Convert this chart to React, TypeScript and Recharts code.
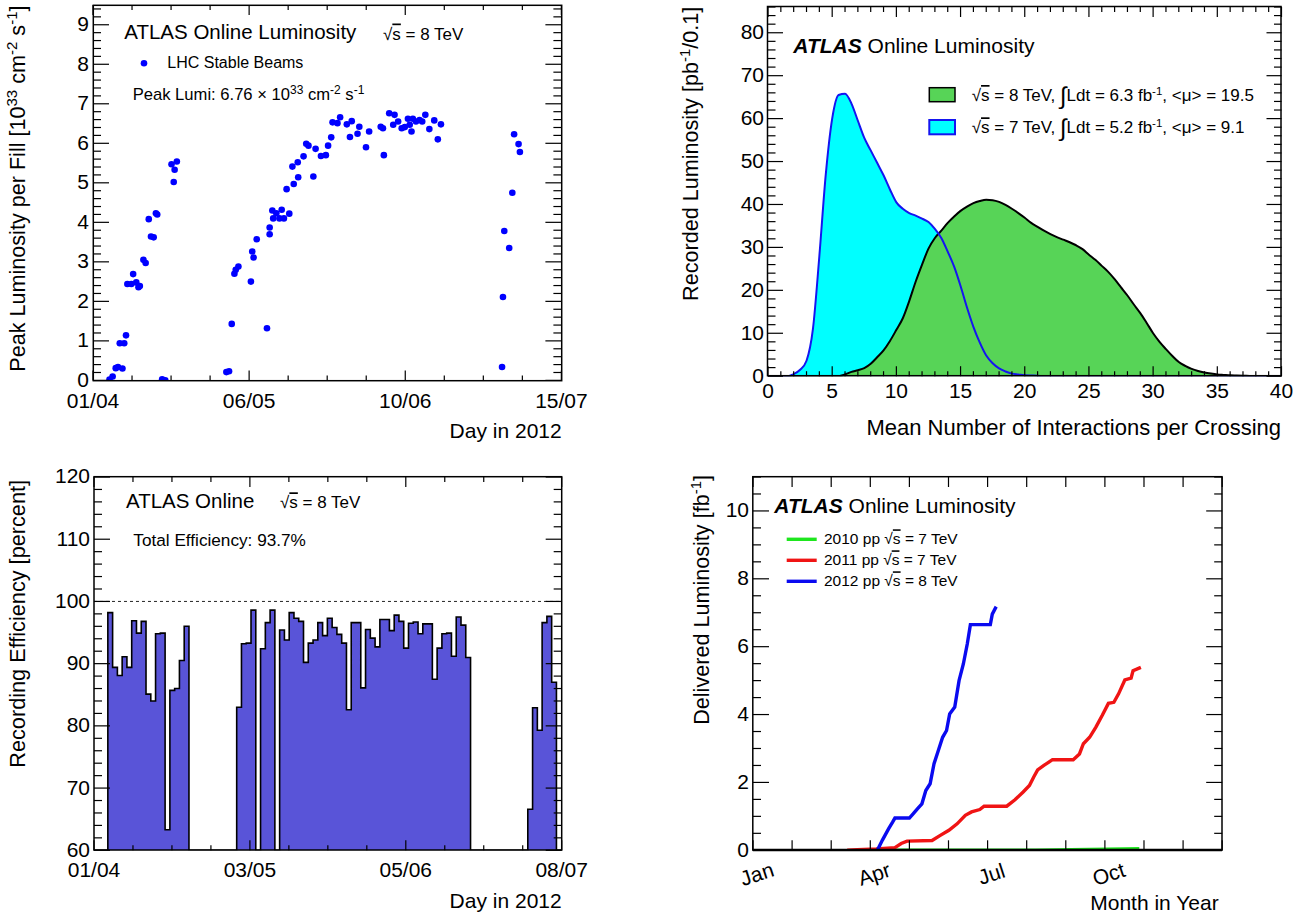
import React from 'react';
import { ScatterChart, Scatter, ComposedChart, Area, Line, XAxis, YAxis, ReferenceLine } from 'recharts';

// ---- top-left: peak luminosity per fill (days since 01/04) ----
const peakDay = [
  3.7, 4.4, 5.1, 5.6, 6.6, 6.0, 7.0, 7.4, 7.7, 8.6, 9.0, 9.7, 10.2, 10.5, 11.3, 11.8, 12.5, 13.0, 13.6, 14.1,
  14.4, 15.5, 16.2, 17.6, 18.1, 18.3, 18.8,
  29.9, 30.5, 31.1, 31.7, 32.0, 32.6, 35.4, 35.7, 36.0, 36.7, 39.0, 39.6, 39.6, 40.2, 40.4, 41.1, 41.8, 42.3,
  42.8, 43.4, 44.0, 44.7, 45.0, 45.9, 46.0, 47.2, 47.8, 48.3, 49.4, 49.9, 51.1, 52.2, 52.7, 53.4, 53.7, 54.8,
  55.4, 56.9, 57.6, 58.0, 59.3, 59.7, 61.2, 61.9, 64.5, 65.0, 65.2, 66.4, 67.3, 67.6, 68.4, 69.2, 69.9, 70.6,
  71.0, 71.4, 71.7, 72.4, 73.2, 73.8, 74.5, 75.4, 76.5, 77.3, 78.0,
  91.7, 91.9, 92.2, 93.3, 94.0, 94.4, 95.4, 95.7,
];
const peakLumi = [
  0.02, 0.1, 0.31, 0.34, 0.3, 0.94, 0.94, 1.14, 2.44, 2.44, 2.69, 2.48, 2.36, 2.39, 3.05, 2.97, 4.08, 3.64, 3.62, 4.23,
  4.2, 0.03, 0.0, 5.47, 5.02, 5.33, 5.54,
  0.21, 0.23, 1.43, 2.7, 2.8, 2.88, 2.5, 3.26, 3.11, 3.57, 1.32, 3.87, 3.7, 4.3, 4.1, 4.23, 4.1, 4.32,
  4.1, 4.84, 4.22, 5.41, 4.97, 5.52, 5.14, 5.67, 5.99, 5.94, 5.16, 5.86, 5.68, 5.7, 5.94, 6.15, 6.53, 6.51,
  6.66, 6.48, 6.16, 6.56, 6.24, 6.42, 5.9, 6.3, 6.42, 6.38, 5.7, 6.76, 6.47, 6.72, 6.55, 6.38, 6.41, 6.62,
  6.47, 6.3, 6.62, 6.55, 6.59, 6.55, 6.72, 6.36, 6.58, 6.1, 6.48,
  0.34, 2.11, 3.78, 3.35, 4.75, 6.23, 5.98, 5.78,
];
const p1DateTicks = [0, 35, 70, 105];
const p1DateLabels = ['01/04', '06/05', '10/06', '15/07'];

// ---- top-right: mu distribution, bins of 0.5 from 0 to 40 ----
const muStep = 0.5;
const lumi7TeV = [
  0, 0, 0, 0, 0.5, 1.5, 3.6, 11, 28, 47, 60, 65.5, 65.8, 63.5, 59.5, 55.5, 52.6, 49.7, 46.8, 43.5,
  40.5, 39, 38, 37.4, 36.7, 35.9, 34.3, 32.2, 29, 25.5, 21, 16, 11.5, 7.8, 4.8, 3, 1.8, 1.1, 0.6, 0.4,
  0.2, 0.15, 0.1, 0, 0, 0, 0, 0, 0, 0, 0, 0, 0, 0, 0, 0, 0, 0, 0, 0,
  0, 0, 0, 0, 0, 0, 0, 0, 0, 0, 0, 0, 0, 0, 0, 0, 0, 0, 0, 0, 0,
];
const lumi8TeV = [
  0, 0, 0, 0, 0, 0, 0, 0, 0, 0, 0, 0, 0.4, 1.0, 1.4, 1.9, 2.9, 4.4, 6, 8.2,
  10.8, 13.5, 17.5, 22, 26, 29.7, 32.2, 33.9, 35.7, 37.2, 38.5, 39.5, 40.3, 40.8, 41.1, 41, 40.6, 39.9, 39, 38,
  36.9, 35.7, 34.8, 33.9, 33.1, 32.4, 31.8, 31.2, 30.5, 29.6, 28.3, 27.1, 25.7, 24.3, 22.6, 20.7, 18.8, 16.7, 14.7, 12.4,
  10, 8, 6.3, 4.7, 3.3, 2.4, 1.7, 1.2, 0.85, 0.6, 0.4, 0.3, 0.2, 0.15, 0.1, 0.05, 0, 0, 0, 0, 0,
];

// ---- bottom-left: daily recording efficiency, first bin = day 3 ----
const effFirstDay = 3;
const effValues = [
  98.2, 89.4, 88.1, 91.1, 89.4, 96.9, 94.9, 96.8, 85.1, 84.0, 94.8, 94.9, 63.3, 85.7, 86.0, 90.5, 96.0,
  60, 60, 60, 60, 60, 60, 60, 60, 60, 60,
  83.0, 93.2, 93.3, 98.6, 60, 92.4, 96.6, 98.6, 60, 95.4, 93.8, 98.2, 97.3, 96.8, 90.2, 93.3, 93.8, 96.6,
  94.5, 97.3, 95.8, 94.7, 93.3, 82.6, 96.6, 96.6, 86.1, 95.5, 94.1, 92.7, 97.1, 97.1, 95.3, 97.8, 96.8,
  92.5, 96.5, 96.7, 94.8, 96.4, 96.4, 87.5, 92.5, 94.8, 94.9, 91.2, 97.5, 96.2, 91.0,
  60, 60, 60, 60, 60, 60, 60, 60, 60, 60, 60, 60,
  66.6, 82.9, 79.3, 96.6, 97.6, 87.0,
  60,
];
const p3DateTicks = [0, 98 / 3, 196 / 3, 98];
const p3DateLabels = ['01/04', '03/05', '05/06', '08/07'];

// ---- bottom-right: cumulative delivered luminosity (x in months from Jan 1) ----
const lumi2010Month = [2.94, 5.0, 7.23, 9.03, 9.88];
const lumi2010Value = [0, 0, 0.0, 0.03, 0.05];
const lumi2011Month = [2.41, 2.67, 3.15, 3.63, 3.79, 3.94, 4.58, 4.79, 5.01, 5.22, 5.43, 5.59, 5.8, 5.91, 6.49, 6.7,
  6.91, 7.07, 7.18, 7.28, 7.44, 7.66, 8.19, 8.35, 8.45, 8.61, 8.77, 8.93, 9.09, 9.23, 9.35, 9.51, 9.67, 9.72, 9.92];
const lumi2011Value = [0, 0.02, 0.04, 0.08, 0.2, 0.27, 0.29, 0.44, 0.59, 0.78, 1.03, 1.13, 1.2, 1.3, 1.3, 1.49,
  1.72, 1.91, 2.16, 2.37, 2.5, 2.67, 2.67, 2.84, 3.14, 3.33, 3.63, 3.97, 4.33, 4.36, 4.61, 5.02, 5.07, 5.29, 5.39];
const lumi2012Month = [3.18, 3.31, 3.47, 3.57, 3.63, 4.0, 4.1, 4.21, 4.32, 4.42, 4.53, 4.63, 4.74, 4.85, 4.95, 5.03,
  5.16, 5.27, 5.38, 5.48, 5.56, 6.07, 6.12, 6.22];
const lumi2012Value = [0, 0.3, 0.64, 0.83, 0.95, 0.95, 1.08, 1.23, 1.37, 1.76, 1.96, 2.55, 2.94, 3.33, 3.53, 4.02,
  4.22, 5.0, 5.49, 6.08, 6.65, 6.65, 6.96, 7.18];
const monthLabels = ['Jan', '', '', 'Apr', '', '', 'Jul', '', '', 'Oct', '', '', ''];

const FONT = '"Liberation Sans", Arial, Helvetica, sans-serif';
const M = 60;

type Box = { L: number; R: number; T: number; B: number };
const P1: Box = { L: 93.3, R: 561.7, T: 5.3, B: 380.7 };
const P2: Box = { L: 767.5, R: 1281, T: 6.5, B: 375.7 };
const P3: Box = { L: 94, R: 561.7, T: 476.7, B: 850 };
const P4: Box = { L: 752.8, R: 1222, T: 476.7, B: 850 };

const near = (list: number[], v: number) => list.some((m) => Math.abs(m - v) < 1e-6);
const steps = (from: number, to: number, step: number) =>
  Array.from({ length: Math.round((to - from) / step) + 1 }, (_, i) => from + i * step);

function xTick(box: Box, majors: number[], majorLen: number, minorLen: number, label: (v: number) => string, labelDy: number, rotated = false) {
  const bottom = M + (box.B - box.T);
  const top = M;
  return (props: any) => {
    const x = props.x;
    const v = props.payload.value;
    const major = near(majors, v);
    const len = major ? majorLen : minorLen;
    const text = major ? label(v) : '';
    return (
      <g>
        <line x1={x} x2={x} y1={bottom} y2={bottom - len} stroke="#000" strokeWidth={1.2} />
        <line x1={x} x2={x} y1={top} y2={top + len} stroke="#000" strokeWidth={1.2} />
        {text && !rotated && (
          <text x={x} y={bottom + labelDy} textAnchor="middle" fontSize={21} fontFamily={FONT} fill="#000">{text}</text>
        )}
        {text && rotated && (
          <text transform={`translate(${x + 4},${bottom + labelDy}) rotate(-18)`} y={7} textAnchor="middle" fontSize={21} fontFamily={FONT} fill="#000">{text}</text>
        )}
      </g>
    );
  };
}

function yTick(box: Box, majors: number[], majorLen: number, minorLen: number, label: (v: number) => string) {
  const left = M;
  const right = M + (box.R - box.L);
  return (props: any) => {
    const y = props.y;
    const v = props.payload.value;
    const major = near(majors, v);
    const len = major ? majorLen : minorLen;
    return (
      <g>
        <line x1={left} x2={left + len} y1={y} y2={y} stroke="#000" strokeWidth={1.2} />
        <line x1={right} x2={right - len} y1={y} y2={y} stroke="#000" strokeWidth={1.2} />
        {major && (
          <text x={left - 4} y={y + 6.5} textAnchor="end" fontSize={21} fontFamily={FONT} fill="#000">{label(v)}</text>
        )}
      </g>
    );
  };
}

const frameStyle = (box: Box): React.CSSProperties => ({
  position: 'absolute',
  left: box.L - M,
  top: box.T - M,
});
const chartSize = (box: Box) => ({
  width: box.R - box.L + 2 * M,
  height: box.B - box.T + 2 * M,
  margin: { top: M, right: M, bottom: 0, left: 0 },
});

const Sqrt = ({ s = 's' }: { s?: string }) => (
  <>
    <tspan>√</tspan>
    <tspan style={{ textDecoration: 'overline' }}>{s}</tspan>
  </>
);

export default function App() {
  const peakData = peakDay.map((d, i) => ({ day: d, lumi: peakLumi[i] }));
  const muData = lumi7TeV.map((v, i) => ({ mu: i * muStep, c7: v, c8: lumi8TeV[i] }));
  const effData = [{ day: 0, eff: 60 }, ...effValues.map((v, i) => ({ day: effFirstDay + i - 0.1, eff: v })), { day: 98, eff: 60 }];
  const d2010 = lumi2010Month.map((m, i) => ({ m, v: lumi2010Value[i] }));
  const d2011 = lumi2011Month.map((m, i) => ({ m, v: lumi2011Value[i] }));
  const d2012 = lumi2012Month.map((m, i) => ({ m, v: lumi2012Value[i] }));

  const p1X = steps(0, 105, 8.75);
  const p1Y = steps(0, 9.4, 0.2);
  const p2X = steps(0, 40, 1);
  const p2Y = steps(0, 86, 2);
  const p3X = steps(0, 98, 98 / 12);
  const p3Y = steps(60, 120, 2);
  const p4X = steps(0, 12, 1);
  const p4Y = steps(0, 11, 0.5);

  const sup = 15;

  return (
    <div style={{ position: 'absolute', left: 0, top: 0, width: 1300, height: 920, background: '#fff', overflow: 'hidden', fontFamily: FONT }}>
      {/* Peak luminosity */}
      <div style={frameStyle(P1)}>
        <ScatterChart {...chartSize(P1)}>
          <XAxis type="number" dataKey="day" domain={[0, 105]} allowDataOverflow ticks={p1X} interval={0} height={M}
            tickLine={false} axisLine={false}
            tick={xTick(P1, p1DateTicks, 10, 5, (v) => p1DateLabels[p1DateTicks.findIndex((t) => Math.abs(t - v) < 1e-6)], 27.5)} />
          <YAxis type="number" dataKey="lumi" domain={[0, 9.5]} allowDataOverflow ticks={p1Y} interval={0} width={M}
            tickLine={false} axisLine={false}
            tick={yTick(P1, steps(0, 9, 1), 16, 8, (v) => String(Math.round(v)))} />
          <Scatter data={peakData} isAnimationActive={false}
            shape={(p: any) => <circle cx={p.cx} cy={p.cy} r={3.3} fill="#0000ff" />} />
        </ScatterChart>
      </div>

      {/* Mu distribution */}
      <div style={frameStyle(P2)}>
        <ComposedChart data={muData} {...chartSize(P2)}>
          <XAxis type="number" dataKey="mu" domain={[0, 40]} allowDataOverflow ticks={p2X} interval={0} height={M}
            tickLine={false} axisLine={false}
            tick={xTick(P2, steps(0, 40, 5), 10, 5, (v) => String(Math.round(v)), 22)} />
          <YAxis type="number" domain={[0, 86]} allowDataOverflow ticks={p2Y} interval={0} width={M}
            tickLine={false} axisLine={false}
            tick={yTick(P2, steps(0, 80, 10), 15, 7.5, (v) => String(Math.round(v)))} />
          <Area type="monotone" dataKey="c7" fill="#00ffff" fillOpacity={1} stroke="none" isAnimationActive={false} dot={false} activeDot={false} />
          <Area type="monotone" dataKey="c8" fill="#57d457" fillOpacity={1} stroke="#000" strokeWidth={2} isAnimationActive={false} dot={false} activeDot={false} />
          <Line type="monotone" dataKey="c7" stroke="#1515f0" strokeWidth={2} dot={false} activeDot={false} isAnimationActive={false} />
        </ComposedChart>
      </div>

      {/* Recording efficiency */}
      <div style={frameStyle(P3)}>
        <ComposedChart data={effData} {...chartSize(P3)}>
          <XAxis type="number" dataKey="day" domain={[0, 98]} allowDataOverflow ticks={p3X} interval={0} height={M}
            tickLine={false} axisLine={false}
            tick={xTick(P3, p3DateTicks, 10, 5, (v) => p3DateLabels[p3DateTicks.findIndex((t) => Math.abs(t - v) < 1e-6)], 27)} />
          <YAxis type="number" domain={[60, 120]} allowDataOverflow ticks={p3Y} interval={0} width={M}
            tickLine={false} axisLine={false}
            tick={yTick(P3, steps(60, 120, 10), 16, 8, (v) => String(Math.round(v)))} />
          <Area type="stepAfter" dataKey="eff" fill="#5954d8" fillOpacity={1} stroke="#000" strokeWidth={1.6} isAnimationActive={false} dot={false} activeDot={false} />
          <ReferenceLine y={100} stroke="#222" strokeDasharray="3 3" strokeWidth={1} />
        </ComposedChart>
      </div>

      {/* Delivered luminosity */}
      <div style={frameStyle(P4)}>
        <ComposedChart {...chartSize(P4)}>
          <XAxis type="number" dataKey="m" domain={[0, 12]} allowDataOverflow ticks={p4X} interval={0} height={M}
            tickLine={false} axisLine={false}
            tick={xTick(P4, p4X, 10, 10, (v) => monthLabels[Math.round(v)], 24, true)} />
          <YAxis type="number" domain={[0, 11]} allowDataOverflow ticks={p4Y} interval={0} width={M}
            tickLine={false} axisLine={false}
            tick={yTick(P4, steps(0, 10, 2), 16, 8, (v) => String(Math.round(v)))} />
          <Line data={d2010} dataKey="v" type="linear" stroke="#1ee61e" strokeWidth={3.4} dot={false} activeDot={false} isAnimationActive={false} />
          <Line data={d2011} dataKey="v" type="linear" stroke="#f01414" strokeWidth={3.4} dot={false} activeDot={false} isAnimationActive={false} />
          <Line data={d2012} dataKey="v" type="linear" stroke="#0a0af0" strokeWidth={3.4} dot={false} activeDot={false} isAnimationActive={false} />
        </ComposedChart>
      </div>

      {/* frames and text annotations */}
      <svg width={1300} height={920} style={{ position: 'absolute', left: 0, top: 0, pointerEvents: 'none' }} fontFamily={FONT} fill="#000">
        {[P1, P2, P3, P4].map((b, i) => (
          <rect key={i} x={b.L} y={b.T} width={b.R - b.L} height={b.B - b.T} fill="none" stroke="#000" strokeWidth={1.5} />
        ))}
        <line x1={P4.L} x2={P4.R} y1={P4.B} y2={P4.B} stroke="#000" strokeWidth={2.5} />

        {/* panel 1 */}
        <text transform="translate(25,5.5) rotate(-90)" textAnchor="end" fontSize={21.6}>
          Peak Luminosity per Fill [10<tspan dy={-8} fontSize={sup}>33</tspan>
          <tspan dy={8}> cm</tspan><tspan dy={-8} fontSize={sup}>-2</tspan>
          <tspan dy={8}> s</tspan><tspan dy={-8} fontSize={sup}>-1</tspan><tspan dy={8}>]</tspan>
        </text>
        <text x={124.3} y={39.3} fontSize={20.5}>ATLAS Online Luminosity</text>
        <text x={383} y={39.5} fontSize={17}><Sqrt /> = 8 TeV</text>
        <circle cx={144} cy={63.3} r={3.3} fill="#0000ff" />
        <text x={167.3} y={68.3} fontSize={16}>LHC Stable Beams</text>
        <text x={132.7} y={100} fontSize={16.6}>
          Peak Lumi: 6.76 × 10<tspan dy={-6.5} fontSize={12}>33</tspan>
          <tspan dy={6.5}> cm</tspan><tspan dy={-6.5} fontSize={12}>-2</tspan>
          <tspan dy={6.5}> s</tspan><tspan dy={-6.5} fontSize={12}>-1</tspan>
        </text>
        <text x={P1.R} y={438.3} textAnchor="end" fontSize={21}>Day in 2012</text>

        {/* panel 2 */}
        <text transform="translate(698,6.7) rotate(-90)" textAnchor="end" fontSize={21.6}>
          Recorded Luminosity [pb<tspan dy={-8} fontSize={sup}>-1</tspan><tspan dy={8}>/0.1]</tspan>
        </text>
        <text x={793.3} y={52.7} fontSize={21}>
          <tspan fontWeight="bold" fontStyle="italic">ATLAS</tspan> Online Luminosity
        </text>
        <rect x={929.3} y={87.7} width={25.7} height={14} fill="#57d457" stroke="#000" strokeWidth={1.5} />
        <rect x={929.3} y={120} width={25.7} height={14.3} fill="#00ffff" stroke="#1515f0" strokeWidth={2} />
        <text x={971.7} y={101} fontSize={17}>
          <Sqrt /> = 8 TeV, <tspan fontSize={24} dy={3}>∫</tspan><tspan dy={-3}>Ldt = 6.3 fb</tspan>
          <tspan dy={-6} fontSize={11.5}>-1</tspan><tspan dy={6}>, &lt;μ&gt; = 19.5</tspan>
        </text>
        <text x={971.7} y={133.3} fontSize={17}>
          <Sqrt /> = 7 TeV, <tspan fontSize={24} dy={3}>∫</tspan><tspan dy={-3}>Ldt = 5.2 fb</tspan>
          <tspan dy={-6} fontSize={11.5}>-1</tspan><tspan dy={6}>, &lt;μ&gt; =  9.1</tspan>
        </text>
        <text x={P2.R} y={435} textAnchor="end" fontSize={22}>Mean Number of Interactions per Crossing</text>

        {/* panel 3 */}
        <text transform="translate(25,480) rotate(-90)" textAnchor="end" fontSize={21.7}>Recording Efficiency [percent]</text>
        <text x={126} y={508.3} fontSize={20.5}>ATLAS Online</text>
        <text x={280} y={508.3} fontSize={17}><Sqrt /> = 8 TeV</text>
        <text x={133.3} y={546} fontSize={17.2}>Total Efficiency: 93.7%</text>
        <text x={P3.R} y={908} textAnchor="end" fontSize={21}>Day in 2012</text>

        {/* panel 4 */}
        <text transform="translate(708.5,475) rotate(-90)" textAnchor="end" fontSize={21.6}>
          Delivered Luminosity [fb<tspan dy={-8} fontSize={sup}>-1</tspan><tspan dy={8}>]</tspan>
        </text>
        <text x={774.3} y={513.3} fontSize={21}>
          <tspan fontWeight="bold" fontStyle="italic">ATLAS</tspan> Online Luminosity
        </text>
        <line x1={786.7} x2={816.7} y1={539.3} y2={539.3} stroke="#1ee61e" strokeWidth={3.4} />
        <line x1={786.7} x2={816.7} y1={560.3} y2={560.3} stroke="#f01414" strokeWidth={3.4} />
        <line x1={786.7} x2={816.7} y1={581.3} y2={581.3} stroke="#0a0af0" strokeWidth={3.4} />
        <text x={824} y={544.3} fontSize={15.5}>2010 pp <Sqrt /> = 7 TeV</text>
        <text x={824} y={565.3} fontSize={15.5}>2011 pp <Sqrt /> = 7 TeV</text>
        <text x={824} y={586.3} fontSize={15.5}>2012 pp <Sqrt /> = 8 TeV</text>
        <text x={1218.7} y={910} textAnchor="end" fontSize={21}>Month in Year</text>
      </svg>
    </div>
  );
}
